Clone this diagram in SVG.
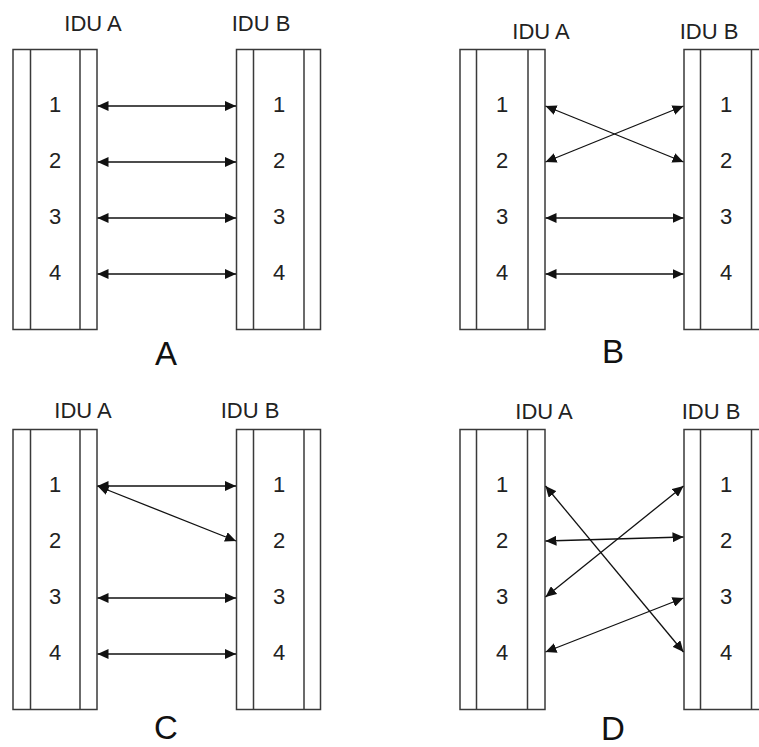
<svg xmlns="http://www.w3.org/2000/svg" width="759" height="747" viewBox="0 0 759 747">
<style>
.box{fill:#fff;stroke:#3a3a3a;stroke-width:1.5}
.div{stroke:#3a3a3a;stroke-width:1.5}
.lbl{font-family:"Liberation Sans",Arial,sans-serif;font-size:22px;fill:#222;text-anchor:middle}
.num{font-family:"Liberation Sans",Arial,sans-serif;font-size:22px;fill:#222;text-anchor:middle}
.cap{font-family:"Liberation Sans",Arial,sans-serif;font-size:33px;fill:#111;text-anchor:middle}
.con{stroke:#111;stroke-width:1.3;fill:none;marker-start:url(#ah);marker-end:url(#ah)}
</style>
<defs>
<marker id="ah" viewBox="0 0 11 10" refX="11" refY="5" markerWidth="11" markerHeight="10" markerUnits="userSpaceOnUse" orient="auto-start-reverse">
<path d="M0,0 L11,5 L0,10 z" fill="#111"/>
</marker>
</defs>
<rect width="759" height="747" fill="#fff"/>

<!-- Panel A -->
<g id="panelA-iduA">
<text class="lbl" x="93" y="30.5">IDU A</text>
<rect class="box" x="13" y="49.5" width="84" height="280"/>
<line class="div" x1="30.5" y1="49.5" x2="30.5" y2="329.5"/>
<line class="div" x1="80" y1="49.5" x2="80" y2="329.5"/>
<text class="num" x="55" y="112">1</text>
<text class="num" x="55" y="168">2</text>
<text class="num" x="55" y="224">3</text>
<text class="num" x="55" y="280">4</text>
</g>
<g id="panelA-iduB">
<text class="lbl" x="261" y="30.5">IDU B</text>
<rect class="box" x="236.5" y="49.5" width="84" height="280"/>
<line class="div" x1="253.5" y1="49.5" x2="253.5" y2="329.5"/>
<line class="div" x1="304" y1="49.5" x2="304" y2="329.5"/>
<text class="num" x="279" y="112">1</text>
<text class="num" x="279" y="168">2</text>
<text class="num" x="279" y="224">3</text>
<text class="num" x="279" y="280">4</text>
</g>
<text class="cap" x="166" y="365">A</text>

<!-- Panel B -->
<g id="panelB-iduA">
<text class="lbl" x="541" y="39">IDU A</text>
<rect class="box" x="460" y="49.5" width="85" height="280"/>
<line class="div" x1="476.5" y1="49.5" x2="476.5" y2="329.5"/>
<line class="div" x1="528" y1="49.5" x2="528" y2="329.5"/>
<text class="num" x="502" y="112">1</text>
<text class="num" x="502" y="168">2</text>
<text class="num" x="502" y="224">3</text>
<text class="num" x="502" y="280">4</text>
</g>
<g id="panelB-iduB">
<text class="lbl" x="709" y="39">IDU B</text>
<rect class="box" x="684" y="49.5" width="84" height="280"/>
<line class="div" x1="700.5" y1="49.5" x2="700.5" y2="329.5"/>
<line class="div" x1="751.5" y1="49.5" x2="751.5" y2="329.5"/>
<text class="num" x="726" y="112">1</text>
<text class="num" x="726" y="168">2</text>
<text class="num" x="726" y="224">3</text>
<text class="num" x="726" y="280">4</text>
</g>
<text class="cap" x="613" y="363">B</text>

<!-- Panel C -->
<g id="panelC-iduA">
<text class="lbl" x="83" y="418">IDU A</text>
<rect class="box" x="13" y="429.5" width="84" height="280"/>
<line class="div" x1="30.5" y1="429.5" x2="30.5" y2="709.5"/>
<line class="div" x1="80" y1="429.5" x2="80" y2="709.5"/>
<text class="num" x="55" y="492">1</text>
<text class="num" x="55" y="548">2</text>
<text class="num" x="55" y="604">3</text>
<text class="num" x="55" y="660">4</text>
</g>
<g id="panelC-iduB">
<text class="lbl" x="250" y="418">IDU B</text>
<rect class="box" x="236.5" y="429.5" width="84" height="280"/>
<line class="div" x1="253.5" y1="429.5" x2="253.5" y2="709.5"/>
<line class="div" x1="304" y1="429.5" x2="304" y2="709.5"/>
<text class="num" x="279" y="492">1</text>
<text class="num" x="279" y="548">2</text>
<text class="num" x="279" y="604">3</text>
<text class="num" x="279" y="660">4</text>
</g>
<text class="cap" x="166" y="739">C</text>

<!-- Panel D -->
<g id="panelD-iduA">
<text class="lbl" x="544" y="419">IDU A</text>
<rect class="box" x="460" y="429.5" width="85" height="280"/>
<line class="div" x1="476.5" y1="429.5" x2="476.5" y2="709.5"/>
<line class="div" x1="527.5" y1="429.5" x2="527.5" y2="709.5"/>
<text class="num" x="502" y="492">1</text>
<text class="num" x="502" y="548">2</text>
<text class="num" x="502" y="604">3</text>
<text class="num" x="502" y="660">4</text>
</g>
<g id="panelD-iduB">
<text class="lbl" x="711" y="419">IDU B</text>
<rect class="box" x="684" y="429.5" width="84" height="280"/>
<line class="div" x1="700.5" y1="429.5" x2="700.5" y2="709.5"/>
<line class="div" x1="751.5" y1="429.5" x2="751.5" y2="709.5"/>
<text class="num" x="726" y="492">1</text>
<text class="num" x="726" y="548">2</text>
<text class="num" x="726" y="604">3</text>
<text class="num" x="726" y="660">4</text>
</g>
<text class="cap" x="613" y="740">D</text>

<g id="connectors">
<!-- A -->
<line class="con" x1="97.5" y1="106" x2="236" y2="106"/>
<line class="con" x1="97.5" y1="162" x2="236" y2="162"/>
<line class="con" x1="97.5" y1="218" x2="236" y2="218"/>
<line class="con" x1="97.5" y1="274" x2="236" y2="274"/>
<!-- B -->
<line class="con" x1="545.5" y1="106" x2="683.5" y2="162"/>
<line class="con" x1="545.5" y1="162" x2="683.5" y2="106"/>
<line class="con" x1="545.5" y1="218" x2="683.5" y2="218"/>
<line class="con" x1="545.5" y1="274" x2="683.5" y2="274"/>
<!-- C -->
<line class="con" x1="97.5" y1="486" x2="236" y2="486"/>
<line class="con" x1="97.5" y1="486" x2="236" y2="541"/>
<line class="con" x1="97.5" y1="598" x2="236" y2="598"/>
<line class="con" x1="97.5" y1="654" x2="236" y2="654"/>
<!-- D -->
<line class="con" x1="545.5" y1="486" x2="683.5" y2="652"/>
<line class="con" x1="545.5" y1="541" x2="683.5" y2="537"/>
<line class="con" x1="545.5" y1="597" x2="683.5" y2="486"/>
<line class="con" x1="545.5" y1="652" x2="683.5" y2="598"/>
</g>
</svg>
